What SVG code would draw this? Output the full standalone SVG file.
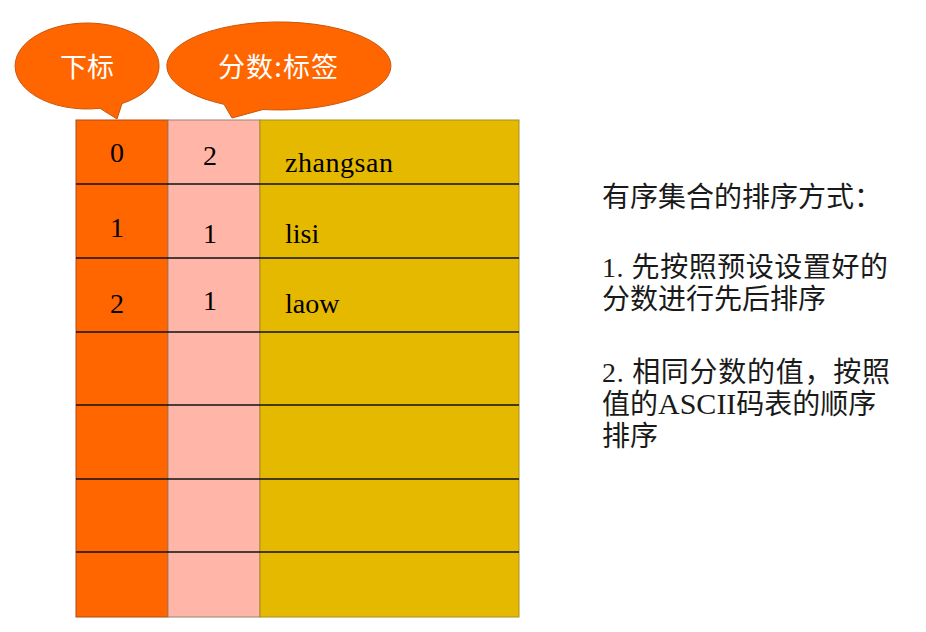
<svg xmlns="http://www.w3.org/2000/svg" width="926" height="632" viewBox="0 0 926 632">
<style>
.callout{fill:#FF6600;stroke:#C8560A;stroke-width:1}
.ctext{font-family:"Noto Sans CJK SC",sans-serif;font-size:27px;fill:#FFFFFF;text-anchor:middle}
.cell{font-family:"Liberation Serif","Times New Roman",serif;font-size:28px;fill:#000000}
.mid{text-anchor:middle}
.note{font-family:"Liberation Serif","Noto Sans CJK SC",serif;font-size:28px;fill:#1a1a1a}
.hline{stroke:#111111;stroke-width:1.5}
</style>
<rect width="926" height="632" fill="#FFFFFF"/>

<g id="callout-index">
<path class="callout" d="M 100 108.3 L 117 119 L 122 103.6 A 72 43 0 1 0 100 108.3 Z"/>
<text class="ctext" x="87" y="77">下标</text>
</g>
<g id="callout-score">
<path class="callout" d="M 224 104.3 L 232 118 L 263 109.5 A 112 44 0 1 0 224 104.3 Z"/>
<text class="ctext" x="278" y="77" textLength="120" lengthAdjust="spacing">分数:标签</text>
</g>

<g id="table">
<rect x="76" y="120" width="92" height="497" fill="#FF6600" stroke="#B04A10" stroke-width="1"/>
<rect x="168" y="120" width="92" height="497" fill="#FFB6A8" stroke="#A08070" stroke-width="1"/>
<rect x="260" y="120" width="259" height="497" fill="#E5B900" stroke="#A8901A" stroke-width="1"/>
<line class="hline" x1="76" y1="184" x2="519" y2="184"/>
<line class="hline" x1="76" y1="258" x2="519" y2="258"/>
<line class="hline" x1="76" y1="332" x2="519" y2="332"/>
<line class="hline" x1="76" y1="405" x2="519" y2="405"/>
<line class="hline" x1="76" y1="479" x2="519" y2="479"/>
<line class="hline" x1="76" y1="552" x2="519" y2="552"/>
</g>

<g id="row-0">
<text class="cell mid" x="117" y="162">0</text>
<text class="cell mid" x="210" y="165">2</text>
<text class="cell" x="285" y="172" textLength="108" lengthAdjust="spacing">zhangsan</text>
</g>
<g id="row-1">
<text class="cell mid" x="117" y="237">1</text>
<text class="cell mid" x="210" y="243">1</text>
<text class="cell" x="285" y="243">lisi</text>
</g>
<g id="row-2">
<text class="cell mid" x="117" y="313">2</text>
<text class="cell mid" x="210" y="310">1</text>
<text class="cell" x="285" y="313">laow</text>
</g>

<g id="note">
<text class="note" x="602" y="207">有序集合的排序方式：</text>
<text class="note" x="602" y="277" textLength="286" lengthAdjust="spacing">1. 先按照预设设置好的</text>
<text class="note" x="602" y="309">分数进行先后排序</text>
<text class="note" x="602" y="382" textLength="288" lengthAdjust="spacing">2. 相同分数的值，按照</text>
<text class="note" x="602" y="414">值的<tspan font-size="30">ASCII</tspan>码表的顺序</text>
<text class="note" x="602" y="446">排序</text>
</g>
</svg>
